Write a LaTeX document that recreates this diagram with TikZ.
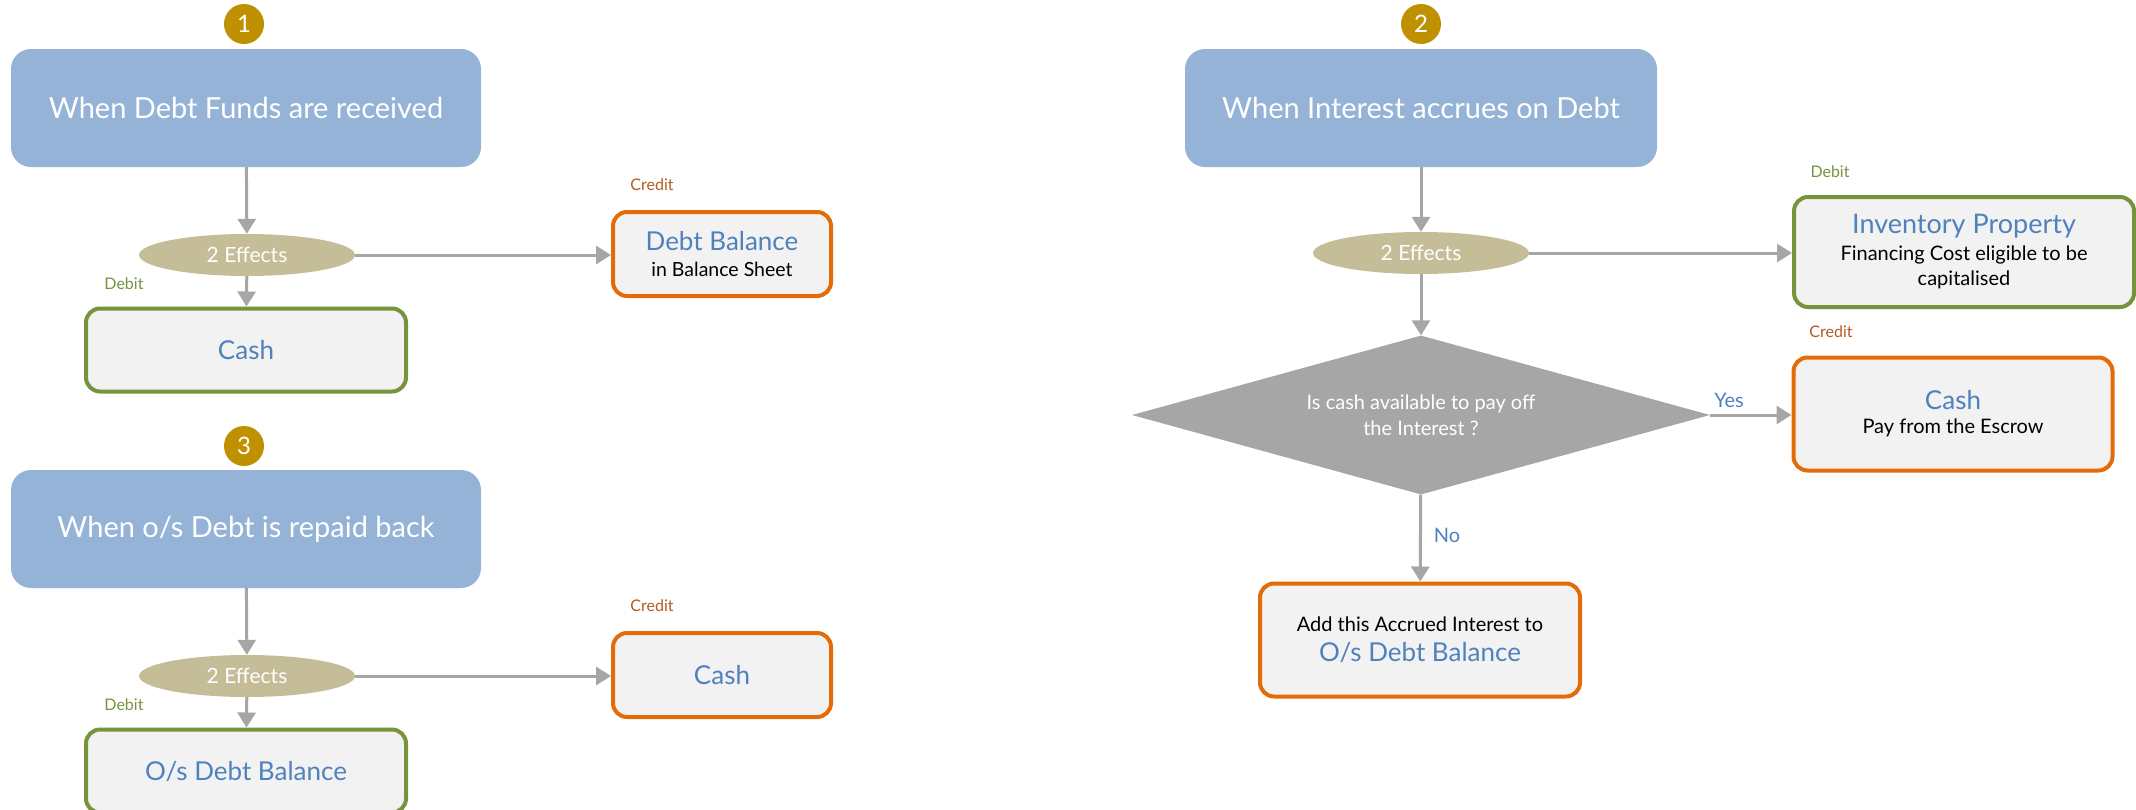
\documentclass[tikz,border=0pt]{standalone}
\usepackage{fontspec}
\setmainfont{Lato}
\usetikzlibrary{shapes.geometric,arrows.meta}

\definecolor{headblue}{HTML}{95B3D7}
\definecolor{effecttan}{HTML}{C4BD97}
\definecolor{badgegold}{HTML}{BF9000}
\definecolor{linegray}{HTML}{A6A6A6}
\definecolor{boxfill}{HTML}{F2F2F2}
\definecolor{debitgreen}{HTML}{77933C}
\definecolor{creditorange}{HTML}{E36C09}
\definecolor{creditbrown}{HTML}{B35A1F}
\definecolor{titleblue}{HTML}{4F81BD}

\newcommand{\fsz}[2]{\fontsize{#1}{#2}\selectfont}

\tikzset{
  badge/.style={circle, fill=badgegold, text=white, inner sep=0pt,
    minimum size=40pt, font=\fsz{24}{28}},
  headbox/.style={rectangle, rounded corners=20pt, fill=headblue,
    text=white, minimum width=470pt, minimum height=118pt,
    font=\fsz{29}{33}},
  effects/.style={ellipse, fill=effecttan, text=white, inner sep=0pt,
    minimum width=216pt, minimum height=42pt, font=\fsz{21}{24}},
  debitbox/.style={rectangle, rounded corners=14pt, draw=debitgreen,
    line width=4pt, fill=boxfill, align=center, font=\fsz{20}{26}},
  creditbox/.style={rectangle, rounded corners=14pt, draw=creditorange,
    line width=4pt, fill=boxfill, align=center, font=\fsz{20}{26}},
  debitlbl/.style={text=debitgreen, font=\fsz{16}{19}, inner sep=0pt},
  creditlbl/.style={text=creditbrown, font=\fsz{16}{19}, inner sep=0pt},
  answer/.style={text=titleblue, font=\fsz{20}{24}, inner sep=0pt},
  decision/.style={diamond, fill=linegray, text=white, inner sep=0pt,
    minimum width=578pt, minimum height=159pt, aspect=3.64,
    align=center, font=\fsz{20}{26}},
  flow/.style={draw=linegray, line width=3pt,
    -{Triangle[length=15pt,width=18pt]}},
}
\newcommand{\boxtitle}[2][26]{{\color{titleblue}\fsz{#1}{26}#2}}

\begin{document}
\begin{tikzpicture}[x=1pt,y=-1pt]
\useasboundingbox (0,0) rectangle (2136,809);
\clip (0,0) rectangle (2136,809);

% ---- Case 1: debt funds received ----
\node[badge] (n1) at (244,24) {1};
\node[headbox] (h1) at (246,108) {When Debt Funds are received};
\node[effects] (e1) at (247,255) {2 Effects};
\node[creditbox, minimum width=218pt, minimum height=84pt] (c1) at (722,254)
  {\boxtitle{Debt Balance}\\{\fsz{19.5}{26}in Balance Sheet}};
\node[debitbox, minimum width=320pt, minimum height=83pt] (d1) at (246,350)
  {\boxtitle{Cash}};
\node[creditlbl] (c1l) at (652,185) {Credit};
\node[debitlbl] (d1l) at (124,284) {Debit};
\draw[flow] (h1) -- (e1);
\draw[flow] (e1.east) -- (e1.east -| c1.west);
\draw[flow] (e1) -- (d1);

% ---- Case 3: outstanding debt repaid ----
\node[badge] (n3) at (244,446) {3};
\node[headbox] (h3) at (246,529) {When o/s Debt is repaid back};
\node[effects] (e3) at (247,676) {2 Effects};
\node[creditbox, minimum width=218pt, minimum height=84pt] (c3) at (722,675)
  {\boxtitle{Cash}};
\node[debitbox, minimum width=320pt, minimum height=83pt] (d3) at (246,771)
  {\boxtitle{O/s Debt Balance}};
\node[creditlbl] (c3l) at (652,606) {Credit};
\node[debitlbl] (d3l) at (124,705) {Debit};
\draw[flow] (h3) -- (e3);
\draw[flow] (e3.east) -- (e3.east -| c3.west);
\draw[flow] (e3) -- (d3);

% ---- Case 2: interest accrues ----
\node[badge] (n2) at (1421,24) {2};
\node[headbox, minimum width=472pt] (h2) at (1421,108) {When Interest accrues on Debt};
\node[effects] (e2) at (1421,253) {2 Effects};
\node[debitbox, minimum width=340pt, minimum height=110pt] (inv) at (1964,252)
  {\boxtitle[27]{Inventory Property}\\[1pt]Financing Cost eligible to be\\[-1pt]capitalised};
\node[debitlbl] (invl) at (1830,172) {Debit};
\node[decision] (q) at (1421,415) {Is cash available to pay off\\the Interest ?};
\node[creditbox, minimum width=319pt, minimum height=113pt] (pay) at (1953,414)
  {\boxtitle{Cash}\\[-2pt]Pay from the Escrow};
\node[creditlbl] (payl) at (1831,332) {Credit};
\node[creditbox, minimum width=320pt, minimum height=113pt] (acc) at (1420,640)
  {Add this Accrued Interest to\\[4pt]\boxtitle{O/s Debt Balance}};
\node[answer] (yes) at (1729,400) {Yes};
\node[answer] (no) at (1447,535) {No};
\draw[flow] (h2) -- (e2);
\draw[flow] (e2.east) -- (e2.east -| inv.west);
\draw[flow] (e2) -- (q);
\draw[flow] (q.east) -- (q.east -| pay.west);
\draw[flow] (q) -- (acc);
\end{tikzpicture}
\end{document}
